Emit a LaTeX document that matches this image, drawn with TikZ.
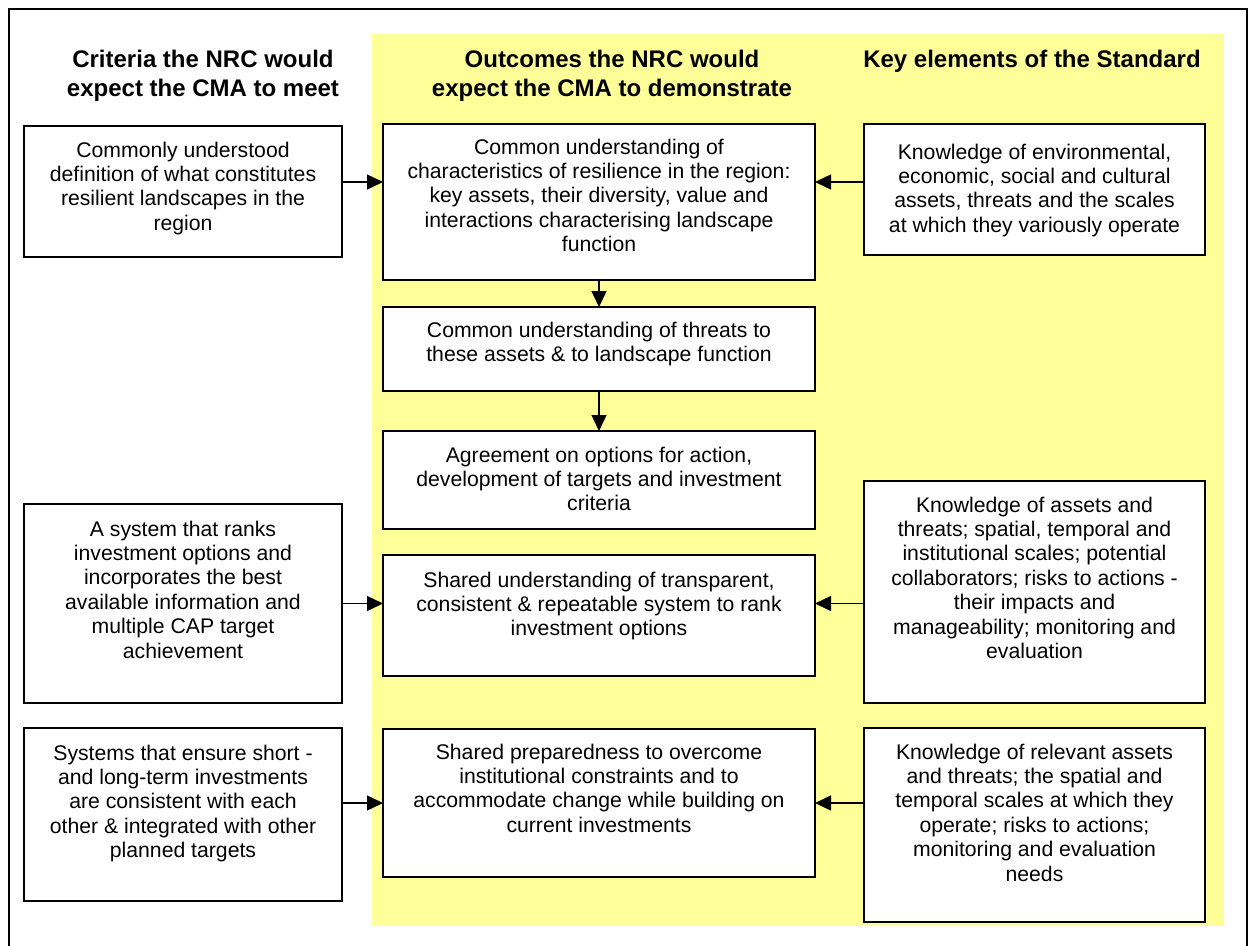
\documentclass[tikz,border=0pt]{standalone}
\usepackage{fontspec}
\setmainfont{Liberation Sans}
\usetikzlibrary{arrows.meta}
\definecolor{yellowbg}{RGB}{255,255,153}
\newcommand{\bodyfont}{\fontsize{21.2pt}{24.4pt}\selectfont}
\newcommand{\hdrfont}{\fontsize{24pt}{29pt}\selectfont\bfseries}
\newcommand{\bt}[4]{\parbox[c][#2pt][t]{#1pt}{\centering\bodyfont\rule{0pt}{#3pt}#4}}
\newcommand{\hdtext}[2]{\parbox[t]{#1pt}{\centering\hdrfont\rule{0pt}{33pt}#2}}
\tikzset{
  boxnode/.style={draw=black, fill=white, line width=2pt, inner sep=0pt, outer sep=0pt, anchor=north west, rectangle},
  hdr/.style={inner sep=0pt, outer sep=0pt, anchor=north},
  arr/.style={line width=1.4pt, -{Triangle[length=16pt,width=15pt]}},
  frame/.style={line width=2pt}
}
\begin{document}
\begin{tikzpicture}[x=1pt,y=-1pt]
\useasboundingbox (0,0) rectangle (1250,945);
\fill[white] (0,0) rectangle (1250,945);
\fill[yellowbg] (372,34) rectangle (1224,926);
\draw[frame] (9,960) -- (9,9) -- (1247,9) -- (1247,960);

% headers
\node[hdr] (h1) at (203,34) {\hdtext{340}{Criteria the NRC would\\expect the CMA to meet}};
\node[hdr] (h2) at (612,34) {\hdtext{420}{Outcomes the NRC would\\expect the CMA to demonstrate}};
\node[hdr] (h3) at (1032,34) {\hdtext{360}{Key elements of the Standard}};

% left column
\node[boxnode] (L1) at (24,126) {\bt{318}{131}{31}{Commonly understood\\definition of what constitutes\\resilient landscapes in the\\region}};
\node[boxnode] (L2) at (24,504) {\bt{318}{199}{32}{A system that ranks\\investment options and\\incorporates the best\\available information and\\multiple CAP target\\achievement}};
\node[boxnode] (L3) at (24,728) {\bt{318}{173}{32}{Systems that ensure short -\\and long-term investments\\are consistent with each\\other \& integrated with other\\planned targets}};

% middle column
\node[boxnode] (M1) at (383,124) {\bt{432}{156}{30}{Common understanding of\\characteristics of resilience in the region:\\key assets, their diversity, value and\\interactions characterising landscape\\function}};
\node[boxnode] (M2) at (383,307) {\bt{432}{84}{30}{Common understanding of threats to\\these assets \& to landscape function}};
\node[boxnode] (M3) at (383,431) {\bt{432}{98}{31}{Agreement on options for action,\\development of targets and investment\\criteria}};
\node[boxnode] (M4) at (383,555) {\bt{432}{121}{32}{Shared understanding of transparent,\\consistent \& repeatable system to rank\\investment options}};
\node[boxnode] (M5) at (383,729) {\bt{432}{148}{30}{Shared preparedness to overcome\\institutional constraints and to\\accommodate change while building on\\current investments}};

% right column
\node[boxnode] (R1) at (864,124) {\bt{341}{131}{35}{Knowledge of environmental,\\economic, social and cultural\\assets, threats and the scales\\at which they variously operate}};
\node[boxnode] (R2) at (864,481) {\bt{341}{222}{31}{Knowledge of assets and\\threats; spatial, temporal and\\institutional scales; potential\\collaborators; risks to actions -\\their impacts and\\manageability; monitoring and\\evaluation}};
\node[boxnode] (R3) at (864,728) {\bt{341}{194}{31}{Knowledge of relevant assets\\and threats; the spatial and\\temporal scales at which they\\operate; risks to actions;\\monitoring and evaluation\\needs}};

% connectors
\coordinate (a1) at ([yshift=-56pt]L1.north east);
\coordinate (b1) at ([yshift=-58pt]R1.north west);
\draw[arr] (a1) -- (a1 -| M1.west);
\draw[arr] (b1) -- (b1 -| M1.east);
\draw[arr] (M1.south) -- (M2.north);
\draw[arr] (M2.south) -- (M3.north);
\draw[arr] (L2.east) -- (L2.east -| M4.west);
\draw[arr] (R2.west |- L2.east) -- (L2.east -| M4.east);
\draw[arr] (L3.east |- M5.west) -- (M5.west);
\draw[arr] (R3.west |- M5.east) -- (M5.east);
\end{tikzpicture}
\end{document}
